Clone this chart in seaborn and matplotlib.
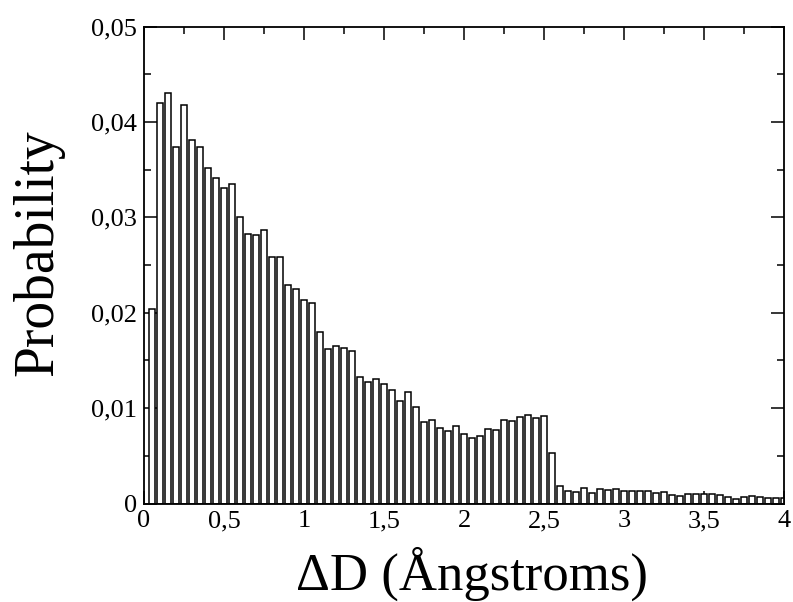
import numpy as np
import pandas as pd
import matplotlib
matplotlib.use('Agg')
import matplotlib.pyplot as plt
from matplotlib.ticker import MultipleLocator, FuncFormatter
import seaborn as sns

# Histogram values (one value per 0.05 bin, bins centred at 0.05 ... 4.00)
probability = [
    0.0204, 0.0420, 0.0431, 0.0374, 0.0418, 0.0381, 0.0374, 0.0352, 0.0341, 0.0331,
    0.0335, 0.0300, 0.0283, 0.0282, 0.0287, 0.0258, 0.0259, 0.0229, 0.0225, 0.0213,
    0.0210, 0.0180, 0.0162, 0.0165, 0.0163, 0.0160, 0.0133, 0.0127, 0.0131, 0.0125,
    0.0119, 0.0107, 0.0117, 0.0101, 0.0086, 0.0088, 0.0079, 0.0076, 0.0081, 0.0073,
    0.0069, 0.0071, 0.0078, 0.0077, 0.0088, 0.0087, 0.0091, 0.0093, 0.0090, 0.0092,
    0.0053, 0.0018, 0.0013, 0.0012, 0.0016, 0.0011, 0.0015, 0.0014, 0.0015, 0.0013,
    0.0013, 0.0013, 0.0013, 0.0011, 0.0012, 0.0009, 0.0008, 0.0010, 0.0010, 0.0010,
    0.0010, 0.0009, 0.0007, 0.0005, 0.0007, 0.0008, 0.0007, 0.0006, 0.0006, 0.0006,
]
bin_width = 0.05
x_ticks = [0, 0.5, 1, 1.5, 2, 2.5, 3, 3.5, 4]
y_ticks = [0, 0.01, 0.02, 0.03, 0.04, 0.05]

centers = bin_width * np.arange(1, len(probability) + 1)
df = pd.DataFrame({'dD': centers, 'p': probability})

sns.set_theme(style='ticks')
plt.rcParams['font.family'] = ['Liberation Serif', 'DejaVu Serif']
plt.rcParams['text.color'] = 'black'
plt.rcParams['axes.labelcolor'] = 'black'

fig = plt.figure(figsize=(7.93, 6.02), dpi=100)
ax = fig.add_axes([0.1816, 0.1636, 0.8071, 0.792])

sns.histplot(data=df, x='dD', weights='p', binwidth=bin_width,
             binrange=(bin_width / 2, centers[-1] + bin_width / 2), stat='count',
             color='white', edgecolor='black', linewidth=1.1, alpha=1,
             shrink=0.85, ax=ax)

ax.set_xlim(0, 4)
ax.set_ylim(0, 0.05)
ax.set_xticks(x_ticks)
ax.set_yticks(y_ticks)
ax.xaxis.set_minor_locator(MultipleLocator(0.25))
ax.yaxis.set_minor_locator(MultipleLocator(0.005))

comma = FuncFormatter(lambda v, p: ('%g' % v).replace('.', ','))
ax.xaxis.set_major_formatter(comma)
ax.yaxis.set_major_formatter(comma)

ax.tick_params(which='both', direction='in', top=True, right=True,
               labelsize=19, colors='black', width=1.1)
ax.tick_params(which='major', length=9.5, pad=5)
ax.tick_params(which='minor', length=5)

for s in ax.spines.values():
    s.set_visible(True)
    s.set_linewidth(1.3)
    s.set_color('black')

ax.set_xlabel('ΔD (Ångstroms)', fontsize=38, labelpad=10)
ax.set_ylabel('Probability', fontsize=40, labelpad=19)
ax.xaxis.label.set_x(0.5125)
ax.yaxis.label.set_y(0.527)

fig.savefig('out.png', dpi=100, facecolor='white')
